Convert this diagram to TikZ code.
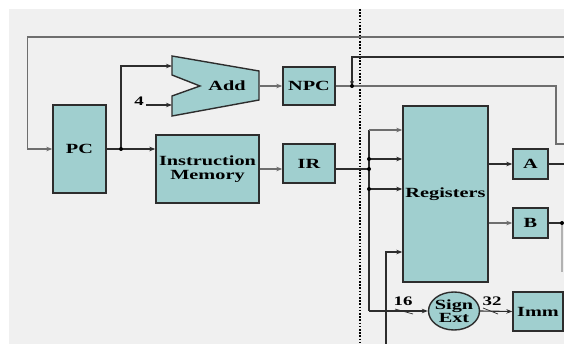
\documentclass[tikz,border=0pt]{standalone}
\usepackage{fontspec}
\setmainfont{Liberation Serif}[FakeStretch=1.45]
\usetikzlibrary{shapes.geometric,arrows.meta,positioning,calc}
\definecolor{regteal}{RGB}{160,207,207}
\definecolor{bggray}{RGB}{240,240,240}
\definecolor{wiregray}{RGB}{110,110,110}
\definecolor{edgegray}{RGB}{45,45,45}

\begin{document}
\begin{tikzpicture}[
  x=1pt, y=-1pt,
  blk/.style={draw=edgegray, fill=regteal, line width=1.4pt, inner sep=0pt, align=center, font=\bfseries\fontsize{14}{14}\selectfont},
  wire/.style={draw=edgegray, line width=1.1pt},
  arr/.style={wire, -{Stealth[length=6pt, width=4.5pt]}},
  lbl/.style={font=\bfseries\fontsize{13}{13}\selectfont, inner sep=0pt}
]
  \useasboundingbox (0,0) rectangle (564,344);
  \fill[white] (0,0) rectangle (564,344);
  \fill[bggray] (9,9) rectangle (564,344);

  \draw[line width=1.6pt, dash pattern=on 1.6pt off 1.6pt] (360,9) -- (360,344);

  \node[blk, minimum width=53pt, minimum height=88pt] (pc) at (79.5,149) {PC};
  \node[blk, minimum width=103pt, minimum height=68pt] (im) at (207.5,169) {Instruction\\Memory};
  \node[blk, minimum width=52pt, minimum height=38pt] (npc) at (309,86) {NPC};
  \node[blk, minimum width=52pt, minimum height=39pt] (ir) at (309,163.5) {IR};
  \node[blk, minimum width=85pt, minimum height=176pt] (reg) at (445.5,194) {Registers};
  \node[blk, minimum width=35pt, minimum height=30pt] (a) at (530.5,164) {A};
  \node[blk, minimum width=35pt, minimum height=30pt] (b) at (530.5,223) {B};
  \node[blk, minimum width=50pt, minimum height=39pt] (imm) at (538,311.5) {Imm};
  \node[blk, ellipse, inner sep=-6pt, minimum width=51pt, minimum height=38pt, font=\bfseries\fontsize{14}{10}\selectfont] (sext) at (454,311) {Sign\\Ext};

  \filldraw[fill=regteal, draw=edgegray, line width=1.4pt] (172,56) -- (259,71) -- (259,100) -- (172,116) -- (172,96) -- (200,86) -- (172,75) -- cycle;
  \node[font=\bfseries\fontsize{14}{14}\selectfont] (add) at (227,86) {Add};
  \coordinate (add-top) at (172,66);
  \coordinate (add-bot) at (172,105);
  \coordinate (add-out) at (259,86);

  \coordinate (fb-in) at (564,37);
  \coordinate (br-in) at (564,57);
  \coordinate (npc-out) at (564,144);
  \coordinate (a-out) at (564,164);
  \coordinate (b-out) at (562,223);
  \coordinate (wb-in) at (386,344);
  \coordinate (pcj) at (121,149);
  \coordinate (brj) at (352,86);
  \coordinate (b1) at (369,130);
  \coordinate (b2) at (369,159);
  \coordinate (b3) at (369,169);
  \coordinate (b4) at (369,189);
  \coordinate (b5) at (369,311);

  \draw[arr, draw=wiregray, line width=1.5pt] (fb-in) -| ([xshift=-25pt]pc.west) -- (pc.west);
  \draw[arr] (pc.east) -- (im.west |- pc.east);
  \draw[arr] (pcj) |- (add-top);
  \node[lbl] (four) at (139,101) {4};
  \draw[arr] ([xshift=2pt]four.east |- add-bot) -- (add-bot);
  \draw[arr, draw=wiregray] (add-out) -- (npc.west);
  \draw[wire, draw=wiregray, line width=1.4pt] (npc.east) -| ([xshift=-8pt]npc-out) -- (npc-out);
  \draw[arr, -{Stealth[length=5pt, width=4pt]}] (br-in) -| (brj);
  \draw[arr, draw=wiregray] (im.east) -- (im.east -| ir.west);
  \draw[wire] (im.east -| ir.east) -- (b3);
  \draw[wire] (b1) -- (b5);
  \draw[arr, draw=wiregray] (b1) -- (b1 -| reg.west);
  \draw[arr] (b2) -- (b2 -| reg.west);
  \draw[arr] (b4) -- (b4 -| reg.west);
  \draw[arr] (b5) -- (sext.west);
  \draw[arr] (sext.east) -- (imm.west);
  \draw[arr] (wb-in) |- ([yshift=-58pt]reg.west);
  \draw[arr] (reg.east |- a.west) -- (a.west);
  \draw[arr, draw=wiregray] (reg.east |- b.west) -- (b.west);
  \draw[wire] (a.east) -- (a-out);
  \draw[wire] (b.east) -- (b-out);
  \draw[wire, draw=gray!60, line width=1.4pt] (b-out) -- ++(0,49);

  \foreach \j in {pcj,brj,b2,b3,b4,b-out}
    \fill[black] (\j) circle (2pt);

  \draw[wire, line width=0.7pt] (395,309) -- (413,314);
  \draw[wire, line width=0.7pt] (483,308) -- (498,314);
  \node[lbl] (w16) at (403,301) {16};
  \node[lbl] (w32) at (492,301) {32};
\end{tikzpicture}
\end{document}
